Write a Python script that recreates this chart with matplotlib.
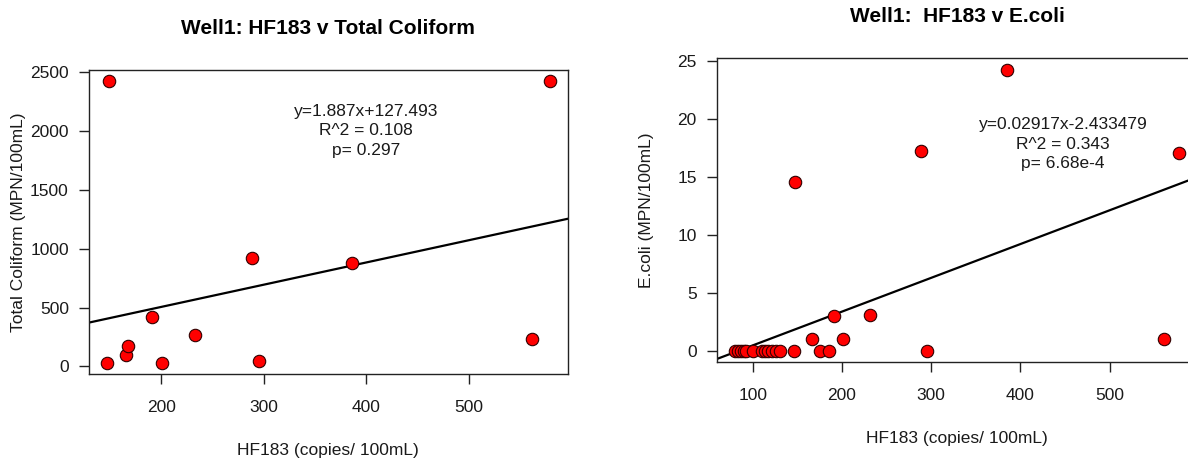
import numpy as np
import matplotlib
matplotlib.use("Agg")
import matplotlib.pyplot as plt

plt.rcParams['font.family'] = ['Liberation Sans', 'DejaVu Sans']

# Well1 total coliform vs HF183
tc_hf183 = [147, 149, 166, 168, 191, 201, 233, 289, 295, 386, 562, 579]
tc_values = [29, 2420, 97, 171, 418, 29, 268, 919, 49, 874, 230, 2420]
tc_slope, tc_intercept = 1.887, 127.493
tc_text = "y=1.887x+127.493\nR^2 = 0.108\np= 0.297"

# Well1 E.coli vs HF183
ec_hf183 = [80, 84, 87, 90, 93, 100, 110, 114, 117, 122, 126, 131, 146, 176, 186, 295,
            166, 201, 561, 191, 232, 148, 289, 385, 578]
ec_values = [0, 0, 0, 0, 0, 0, 0, 0, 0, 0, 0, 0, 0, 0, 0, 0,
             1, 1, 1, 3.0, 3.1, 14.6, 17.3, 24.3, 17.1]
ec_slope, ec_intercept = 0.02917, -2.433479
ec_text = "y=0.02917x-2.433479\nR^2 = 0.343\np= 6.68e-4"

tc_xticks = [200, 300, 400, 500]
tc_yticks = [0, 500, 1000, 1500, 2000, 2500]
ec_xticks = [100, 200, 300, 400, 500]
ec_yticks = [0, 5, 10, 15, 20, 25]

W, H = 1188, 463
fig = plt.figure(figsize=(W / 100, H / 100), dpi=100)
fig.patch.set_facecolor('white')

TXT = '#1a1a1a'


def padded(vals):
    lo, hi = min(vals), max(vals)
    r = hi - lo
    return lo - 0.04 * r, hi + 0.04 * r


def panel(rect, x, y, slope, intercept, xticks, yticks, label_text, text_xy):
    ax = fig.add_axes(rect)
    ax.set_xlim(*padded(x))
    ax.set_ylim(*padded(y))
    xl = np.array(ax.get_xlim())
    ax.plot(xl, slope * xl + intercept, color='black', lw=1.6, zorder=2)
    ax.scatter(x, y, s=80, facecolor='#ff0000', edgecolor='#300000', linewidth=0.8, zorder=3)
    ax.set_xticks(xticks)
    ax.set_yticks(yticks)
    ax.tick_params(axis='both', direction='out', length=7.5, width=1.0, colors='#222222',
                   labelsize=12.5, labelcolor=TXT)
    ax.tick_params(axis='x', pad=11)
    ax.tick_params(axis='y', pad=7)
    for sp in ax.spines.values():
        sp.set_linewidth(1.0)
        sp.set_color('#222222')
    ax.text(text_xy[0], text_xy[1], label_text, ha='center', va='center',
            fontsize=12.5, color=TXT, linespacing=1.38)
    return ax


ax1 = panel([89 / W, 1 - 374.3 / H, (567.5 - 89) / W, (374.3 - 70) / H],
            tc_hf183, tc_values, tc_slope, tc_intercept, tc_xticks, tc_yticks,
            tc_text, (400, 2000))
ax2 = panel([717 / W, 1 - 362.3 / H, (1197 - 717) / W, (362.3 - 58.3) / H],
            ec_hf183, ec_values, ec_slope, ec_intercept, ec_xticks, ec_yticks,
            ec_text, (448, 17.85))

# Titles and axis labels
fig.text(328 / W, 1 - 28 / H, "Well1: HF183 v Total Coliform", ha='center', va='center',
         fontsize=15, fontweight='bold', color='black')
fig.text(957 / W, 1 - 16 / H, "Well1:  HF183 v E.coli", ha='center', va='center',
         fontsize=15, fontweight='bold', color='black')
fig.text(328 / W, 1 - 451 / H, "HF183 (copies/ 100mL)", ha='center', va='center',
         fontsize=12.5, color=TXT)
fig.text(957 / W, 1 - 438 / H, "HF183 (copies/ 100mL)", ha='center', va='center',
         fontsize=12.5, color=TXT)
fig.text(18.4 / W, 1 - 222 / H, "Total Coliform (MPN/100mL)", ha='center', va='center',
         rotation=90, fontsize=12.5, color=TXT)
fig.text(646.5 / W, 1 - 210 / H, "E.coli (MPN/100mL)", ha='center', va='center',
         rotation=90, fontsize=12.5, color=TXT)

fig.savefig("out.png", dpi=100)
